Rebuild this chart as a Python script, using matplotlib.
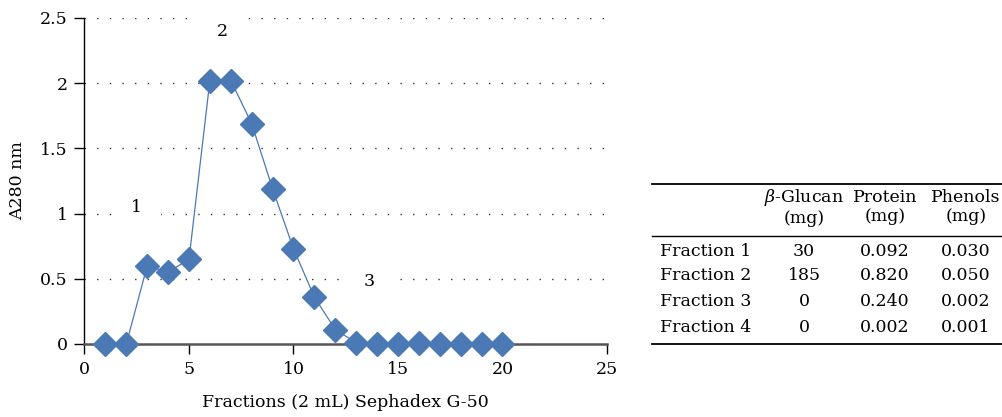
import numpy as np
import matplotlib
matplotlib.use("Agg")
import matplotlib.pyplot as plt
from matplotlib.lines import Line2D

plt.rcParams["font.family"] = ["DejaVu Serif"]
plt.rcParams["mathtext.fontset"] = "dejavuserif"

# elution profile, Sephadex G-50
fractions = [1, 2, 3, 4, 5, 6, 7, 8, 9, 10, 11, 12, 13, 14, 15, 16, 17, 18, 19, 20]
a280 = [0.0, 0.0, 0.60, 0.55, 0.65, 2.02, 2.02, 1.69, 1.19, 0.73,
        0.36, 0.11, 0.01, 0.0, 0.0, 0.01, 0.0, 0.0, 0.0, 0.0]

peak_labels = ["1", "2", "3"]
peak_x = [2.5, 6.6, 13.6]
peak_y = [1.05, 2.4, 0.48]

# composition table
col_names = ["$\\beta$-Glucan\n(mg)", "Protein\n(mg)", "Phenols\n(mg)"]
row_names = ["Fraction 1", "Fraction 2", "Fraction 3", "Fraction 4"]
glucan = ["30", "185", "0", "0"]
protein = ["0.092", "0.820", "0.240", "0.002"]
phenols = ["0.030", "0.050", "0.002", "0.001"]

W, H = 1003, 417
fig = plt.figure(figsize=(W / 100, H / 100), dpi=100)

def fx(px):
    return px / W

def fy(py):
    return 1 - py / H

ax = fig.add_axes([fx(84.5), fy(344), fx(607) - fx(84.5), fy(18) - fy(344)])
blue = "#4a79b5"
ax.plot(fractions, a280, color=blue, lw=0.9, marker="D", ms=12,
        mec=blue, mfc=blue, clip_on=False, zorder=3)

for lab, x, y in zip(peak_labels, peak_x, peak_y):
    ax.text(x, y, lab, ha="center", va="center", fontsize=12.5, zorder=1.5,
            bbox=dict(boxstyle="square,pad=1.1", fc="white", ec="none"))

ax.set_xlim(0, 25)
ax.set_ylim(0, 2.5)
ax.set_xticks([0, 5, 10, 15, 20, 25])
ax.set_yticks([0, 0.5, 1, 1.5, 2, 2.5])
ax.set_yticklabels(["0", "0.5", "1", "1.5", "2", "2.5"])
for y in [0.5, 1, 1.5, 2, 2.5]:
    ax.axhline(y, color="#333333", lw=1.0, ls=(0, (1, 8.1)), zorder=0.5)

ax.spines["top"].set_visible(False)
ax.spines["right"].set_visible(False)
ax.spines["left"].set_linewidth(1.0)
ax.spines["bottom"].set_color("#555555")
ax.spines["bottom"].set_linewidth(1.8)
ax.tick_params(axis="both", direction="out", length=7, width=1.0, labelsize=12.5, pad=5)
ax.set_xlabel("Fractions (2 mL) Sephadex G-50", fontsize=12.5, labelpad=12)
ax.set_ylabel("A280 nm", fontsize=12.5, labelpad=10)

# table
fig.add_artist(Line2D([fx(652), fx(1003)], [fy(184), fy(184)], color="black", lw=1.3))
fig.add_artist(Line2D([fx(652), fx(1003)], [fy(236), fy(236)], color="black", lw=1.0))
fig.add_artist(Line2D([fx(652), fx(1003)], [fy(344), fy(344)], color="black", lw=1.3))

col_x = [804, 885, 966]
for name, cx in zip(col_names, col_x):
    fig.text(fx(cx), fy(207), name, ha="center", va="center", fontsize=12.5,
             linespacing=1.15)

row_y = [251, 276, 302, 328]
for i, ry in enumerate(row_y):
    fig.text(fx(660), fy(ry), row_names[i], ha="left", va="center", fontsize=12.5)
    for cx, col in zip(col_x, [glucan, protein, phenols]):
        fig.text(fx(cx), fy(ry), col[i], ha="center", va="center", fontsize=12.5)

fig.savefig("out.png", dpi=100)
